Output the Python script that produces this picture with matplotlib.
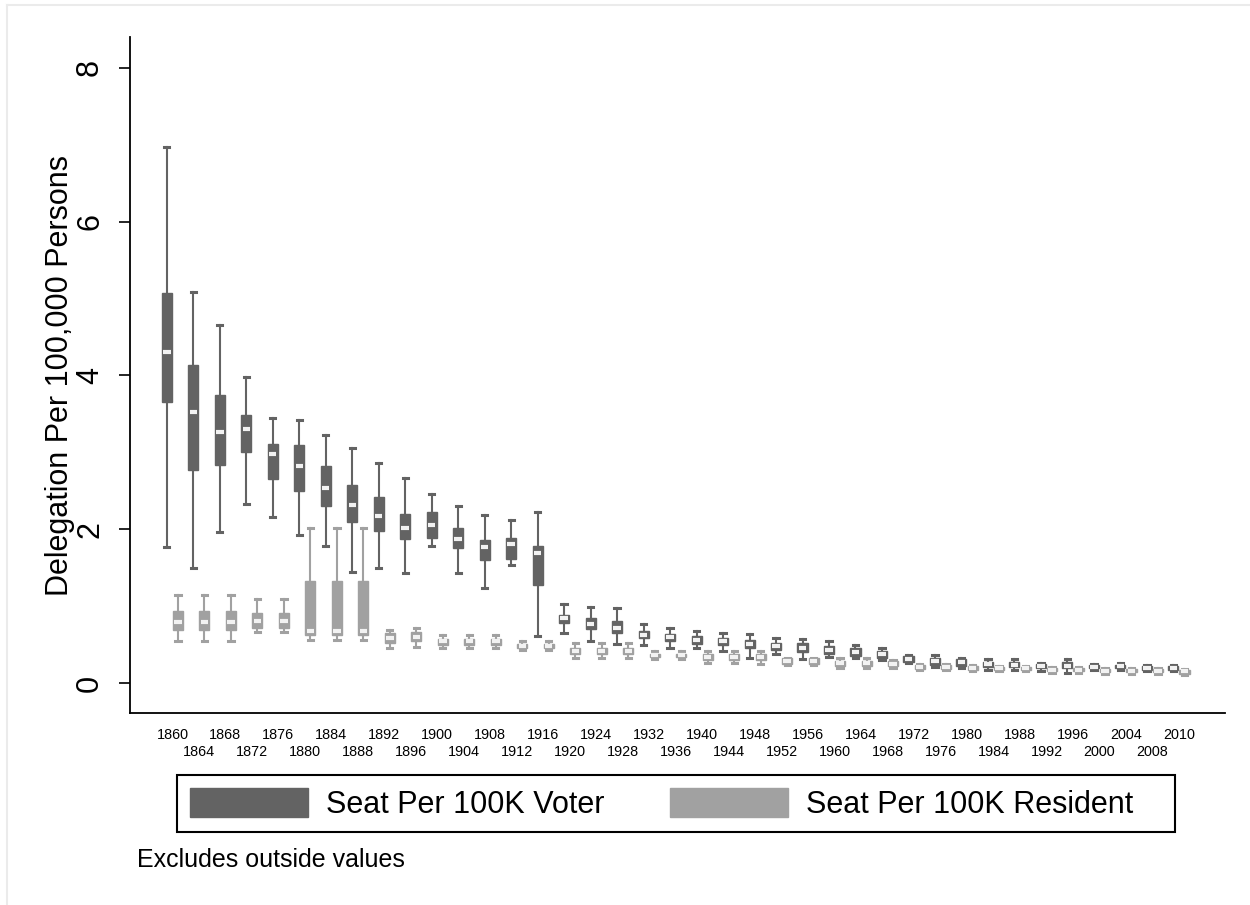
import matplotlib.pyplot as plt
from matplotlib.patches import Patch, Rectangle
from matplotlib.lines import Line2D

plt.rcParams['font.family'] = ['Liberation Sans', 'DejaVu Sans']

# election years (categorical, equally spaced)
years = [1860, 1864, 1868, 1872, 1876, 1880, 1884, 1888, 1892, 1896,
         1900, 1904, 1908, 1912, 1916, 1920, 1924, 1928, 1932, 1936,
         1940, 1944, 1948, 1952, 1956, 1960, 1964, 1968, 1972, 1976,
         1980, 1984, 1988, 1992, 1996, 2000, 2004, 2008, 2010]

# Seat per 100K voter: whisker low, q1, median, q3, whisker high
voter_lo = [1.77, 1.50, 1.96, 2.33, 2.16, 1.92, 1.78, 1.44, 1.49, 1.43,
            1.78, 1.43, 1.24, 1.53, 0.61, 0.65, 0.54, 0.51, 0.49, 0.46,
            0.45, 0.41, 0.33, 0.38, 0.31, 0.34, 0.33, 0.30, 0.26, 0.21,
            0.20, 0.17, 0.17, 0.16, 0.13, 0.17, 0.17, 0.15, 0.15]
voter_q1 = [3.66, 2.77, 2.83, 3.01, 2.65, 2.50, 2.30, 2.10, 1.98, 1.87,
            1.88, 1.75, 1.60, 1.61, 1.28, 0.78, 0.70, 0.65, 0.59, 0.55,
            0.51, 0.49, 0.45, 0.43, 0.40, 0.38, 0.35, 0.33, 0.27, 0.24,
            0.22, 0.21, 0.21, 0.19, 0.19, 0.19, 0.19, 0.17, 0.17]
voter_med = [4.31, 3.52, 3.26, 3.30, 2.98, 2.82, 2.54, 2.31, 2.17, 2.02,
             2.05, 1.87, 1.77, 1.81, 1.69, 0.84, 0.77, 0.72, 0.63, 0.60,
             0.56, 0.54, 0.51, 0.48, 0.46, 0.43, 0.40, 0.38, 0.31, 0.29,
             0.27, 0.25, 0.24, 0.22, 0.22, 0.21, 0.22, 0.19, 0.19]
voter_q3 = [5.07, 4.13, 3.74, 3.48, 3.11, 3.09, 2.82, 2.58, 2.42, 2.20,
            2.22, 2.02, 1.86, 1.89, 1.78, 0.89, 0.84, 0.80, 0.68, 0.64,
            0.61, 0.59, 0.56, 0.52, 0.52, 0.48, 0.45, 0.42, 0.35, 0.33,
            0.31, 0.27, 0.27, 0.25, 0.27, 0.23, 0.24, 0.22, 0.22]
voter_hi = [6.97, 5.09, 4.65, 3.98, 3.45, 3.42, 3.23, 3.05, 2.86, 2.66,
            2.46, 2.30, 2.18, 2.12, 2.23, 1.03, 0.99, 0.98, 0.77, 0.72,
            0.68, 0.65, 0.64, 0.58, 0.57, 0.55, 0.49, 0.46, 0.37, 0.36,
            0.33, 0.31, 0.31, 0.26, 0.31, 0.25, 0.26, 0.24, 0.24]

# Seat per 100K resident
res_lo = [0.55, 0.55, 0.55, 0.66, 0.66, 0.56, 0.56, 0.56, 0.46, 0.47,
          0.46, 0.46, 0.46, 0.43, 0.43, 0.32, 0.32, 0.32, 0.31, 0.31,
          0.26, 0.26, 0.25, 0.23, 0.23, 0.20, 0.20, 0.19, 0.17, 0.17,
          0.16, 0.16, 0.16, 0.13, 0.13, 0.12, 0.12, 0.12, 0.10]
res_q1 = [0.69, 0.69, 0.69, 0.72, 0.72, 0.63, 0.63, 0.63, 0.52, 0.54,
          0.49, 0.49, 0.49, 0.45, 0.45, 0.38, 0.38, 0.38, 0.34, 0.34,
          0.30, 0.30, 0.30, 0.25, 0.25, 0.22, 0.22, 0.22, 0.18, 0.18,
          0.17, 0.17, 0.17, 0.15, 0.15, 0.14, 0.14, 0.14, 0.12]
res_med = [0.79, 0.79, 0.79, 0.80, 0.80, 0.67, 0.67, 0.67, 0.59, 0.60,
           0.54, 0.54, 0.54, 0.48, 0.48, 0.42, 0.42, 0.42, 0.36, 0.36,
           0.34, 0.34, 0.34, 0.28, 0.28, 0.26, 0.26, 0.25, 0.21, 0.21,
           0.20, 0.20, 0.20, 0.17, 0.17, 0.16, 0.16, 0.16, 0.15]
res_q3 = [0.93, 0.93, 0.93, 0.91, 0.91, 1.33, 1.33, 1.33, 0.65, 0.66,
          0.57, 0.57, 0.57, 0.51, 0.51, 0.46, 0.46, 0.46, 0.38, 0.38,
          0.38, 0.38, 0.38, 0.32, 0.32, 0.29, 0.29, 0.28, 0.24, 0.24,
          0.22, 0.21, 0.21, 0.19, 0.19, 0.18, 0.18, 0.18, 0.17]
res_hi = [1.15, 1.15, 1.15, 1.09, 1.09, 2.02, 2.02, 2.02, 0.69, 0.71,
          0.62, 0.62, 0.62, 0.55, 0.55, 0.52, 0.52, 0.52, 0.41, 0.41,
          0.41, 0.41, 0.41, 0.33, 0.33, 0.32, 0.32, 0.30, 0.25, 0.25,
          0.23, 0.22, 0.22, 0.21, 0.21, 0.19, 0.19, 0.19, 0.18]

dark = '#636363'
light = '#a1a1a1'

fig = plt.figure(figsize=(12.5, 9.05), dpi=100)
ax = fig.add_axes([130 / 1250, 1 - 713 / 905, 1095 / 1250, 676 / 905])


def draw_boxes(lo, q1, med, q3, hi, offset, color):
    stats = [dict(whislo=a, q1=b, med=c, q3=d, whishi=e)
             for a, b, c, d, e in zip(lo, q1, med, q3, hi)]
    pos = [i + offset for i in range(len(years))]
    bp = ax.bxp(stats, positions=pos, widths=0.38, capwidths=0.2,
                showfliers=False, patch_artist=True, manage_ticks=False,
                boxprops=dict(facecolor=color, edgecolor=color, linewidth=1),
                whiskerprops=dict(color=color, linewidth=1.5),
                capprops=dict(color=color, linewidth=2.2),
                medianprops=dict(color='#f2f2f2', linewidth=3,
                                 solid_capstyle='butt'))
    # white median marker slightly inset from box edges
    for m in bp['medians']:
        x = m.get_xdata()
        m.set_xdata([x[0] + 0.05, x[1] - 0.05])


draw_boxes(voter_lo, voter_q1, voter_med, voter_q3, voter_hi, -0.21, dark)
draw_boxes(res_lo, res_q1, res_med, res_q3, res_hi, 0.21, light)

ax.set_xlim(-1.6, 39.74)
ax.set_ylim(-0.39, 8.40)

ax.set_yticks([0, 2, 4, 6, 8])
ax.set_yticklabels(['0', '2', '4', '6', '8'], rotation=90, va='center')
ax.tick_params(axis='y', labelsize=22, length=8, width=1.2, pad=10)
ax.set_ylabel('Delegation Per 100,000 Persons', fontsize=22, labelpad=0)

# staggered year labels: even positions on the top row, odd ones below
ax.set_xticks(range(0, len(years), 2))
ax.set_xticklabels([str(y) for y in years[0::2]], fontsize=10.4)
ax.set_xticks(range(1, len(years), 2), minor=True)
ax.set_xticklabels([str(y) for y in years[1::2]], fontsize=10.4, minor=True)
ax.tick_params(axis='x', which='major', length=0, pad=11)
ax.tick_params(axis='x', which='minor', length=0, pad=23)

for s in ['top', 'right']:
    ax.spines[s].set_visible(False)
for s in ['left', 'bottom']:
    ax.spines[s].set_linewidth(1.3)

handles = [Patch(facecolor=dark, edgecolor=dark), Patch(facecolor=light, edgecolor=light)]
fig.legend(handles, ['Seat Per 100K Voter', 'Seat Per 100K Resident'],
           loc='upper left', bbox_to_anchor=(177 / 1250, 1 - 775 / 905),
           ncol=2, fontsize=22, frameon=False, handlelength=3.86,
           handleheight=1.11, handletextpad=0.59, columnspacing=2.16,
           borderpad=0.42, borderaxespad=0)
# legend frame spans the plot width like Stata's
fig.add_artist(Rectangle((177 / 1250, 1 - 832 / 905), 998 / 1250, 57 / 905,
                         transform=fig.transFigure, facecolor='none',
                         edgecolor='black', linewidth=1.5))

fig.text(137 / 1250, 1 - 860 / 905, 'Excludes outside values', fontsize=18, va='center')

# light outer graph-region border
fig.add_artist(Line2D([7 / 1250, 1], [1 - 5 / 905, 1 - 5 / 905], color='#ebebeb',
                      lw=1.5, transform=fig.transFigure))
fig.add_artist(Line2D([7 / 1250, 7 / 1250], [0, 1 - 5 / 905], color='#ebebeb',
                      lw=1.5, transform=fig.transFigure))

fig.savefig('out.png', dpi=100)
